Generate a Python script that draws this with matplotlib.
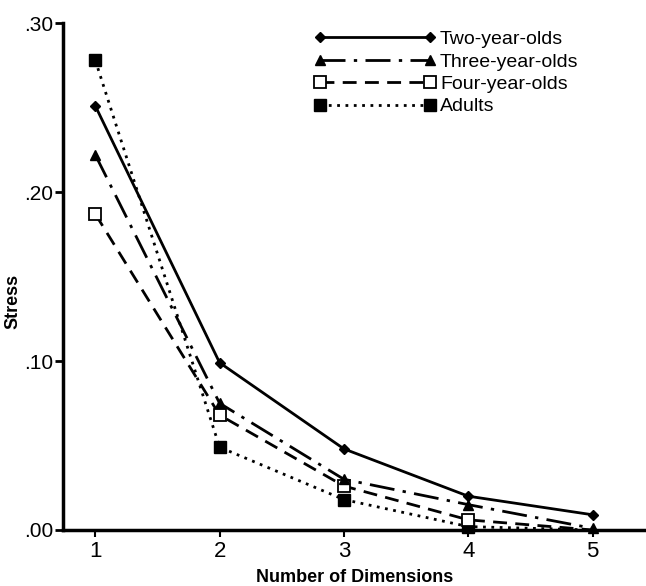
import matplotlib.pyplot as plt
from matplotlib.ticker import FuncFormatter

# Stress values by number of dimensions
dimensions = [1, 2, 3, 4, 5]
two_year_olds = [0.251, 0.099, 0.048, 0.020, 0.009]
three_year_olds = [0.222, 0.075, 0.030, 0.015, 0.001]
four_year_olds = [0.187, 0.068, 0.026, 0.006, 0.0]
adults = [0.278, 0.049, 0.018, 0.002, 0.0]

y_ticks = [0.0, 0.10, 0.20, 0.30]

plt.rcParams['font.family'] = ['Liberation Sans Narrow', 'Liberation Sans', 'DejaVu Sans']

fig = plt.figure(figsize=(6.46, 5.86), dpi=100)
ax = fig.add_axes([0.0975, 0.0956, 0.9025, 0.865])

lw = 2.0
ax.plot(dimensions, two_year_olds, color='black', linestyle='-', linewidth=lw,
        marker='D', markersize=5.5, markerfacecolor='black', label='Two-year-olds',
        clip_on=False, zorder=4)
ax.plot(dimensions, three_year_olds, color='black', linestyle=(0, (9, 3, 1.2, 3)), linewidth=lw,
        marker='^', markersize=7, markerfacecolor='black', label='Three-year-olds',
        clip_on=False, zorder=5)
# squares at dimension 5 sit under the triangle in the original, so not drawn
ax.plot(dimensions, four_year_olds, color='black', linestyle=(0, (5, 3)), linewidth=lw,
        marker='s', markersize=8, markerfacecolor='white', markeredgewidth=1.3,
        markevery=[0, 1, 2, 3], label='Four-year-olds', clip_on=False, zorder=3)
ax.plot(dimensions, adults, color='black', linestyle=(0, (1, 2)), linewidth=lw,
        marker='s', markersize=8, markerfacecolor='black', markevery=[0, 1, 2, 3],
        label='Adults', clip_on=False, zorder=2)

ax.set_xlim(0.74, 5.43)
ax.set_ylim(0, 0.30)
ax.set_xticks(dimensions)
ax.set_yticks(y_ticks)
ax.yaxis.set_major_formatter(FuncFormatter(lambda v, p: f'{v:.2f}'.lstrip('0')))

for side in ['top', 'right']:
    ax.spines[side].set_visible(False)
for side in ['left', 'bottom']:
    ax.spines[side].set_linewidth(2.5)

ax.tick_params(axis='y', direction='out', length=6, width=2, labelsize=15, pad=1)
ax.tick_params(axis='x', direction='out', length=5, width=1.5, labelsize=16, pad=3)

ax.set_xlabel('Number of Dimensions', fontsize=13, fontweight='bold', labelpad=5)
ax.set_ylabel('Stress', fontsize=13, fontweight='bold')
ax.yaxis.set_label_coords(-0.072, 0.45)

ax.legend(loc='upper left', bbox_to_anchor=(0.40, 1.02), frameon=False, fontsize=14,
          handlelength=6.3, numpoints=2, labelspacing=0.25, handletextpad=0.2)

fig.savefig('out.png', dpi=100)
